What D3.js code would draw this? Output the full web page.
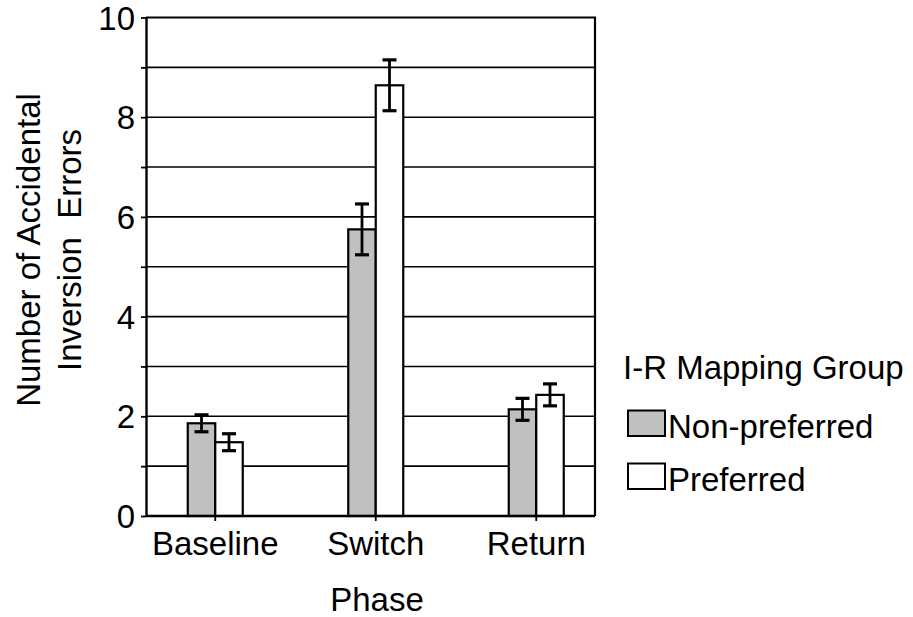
<!DOCTYPE html>
<html>
<head>
<meta charset="utf-8">
<script src="https://cdn.jsdelivr.net/npm/d3@7/dist/d3.min.js"></script>
<style>
  html, body { margin: 0; padding: 0; background: #fff; }
  svg { display: block; }
  text { font-family: "Liberation Sans", Arial, sans-serif; fill: #000; }
</style>
</head>
<body>
<svg id="chart" width="913" height="617"></svg>
<script>
// Phases on the x axis
const phases = ["Baseline", "Switch", "Return"];
// Groups (series)
const groups = ["Non-preferred", "Preferred"];
const groupColors = ["#c0c0c0", "#ffffff"];
// Mean accidental inversion errors per phase
const nonPreferred = [1.86, 5.75, 2.14];
const preferred = [1.48, 8.64, 2.43];
// Error bar half-widths per phase
const nonPreferredErr = [0.17, 0.51, 0.22];
const preferredErr = [0.17, 0.51, 0.22];
// Y-axis ticks
const yTicks = [0, 1, 2, 3, 4, 5, 6, 7, 8, 9, 10];
const yTickLabels = ["0", "", "2", "", "4", "", "6", "", "8", "", "10"];

const seriesValues = [nonPreferred, preferred];
const seriesErrors = [nonPreferredErr, preferredErr];

const svg = d3.select("#chart");
const plot = { left: 146, right: 595, top: 17.5, bottom: 516 };
const fontSize = 33;

const y = d3.scaleLinear().domain([0, 10]).range([plot.bottom, plot.top]);
const x = d3.scaleBand().domain(phases).range([135, 616.5]).padding(0);
const barW = 27.5;
const xg = d3.scaleBand().domain(groups).range([-barW, barW]).padding(0);

// Horizontal gridlines
svg.append("g")
  .selectAll("line")
  .data(yTicks.filter(t => t > 0 && t < 10))
  .join("line")
  .attr("x1", plot.left).attr("x2", plot.right)
  .attr("y1", d => y(d)).attr("y2", d => y(d))
  .attr("stroke", "#000").attr("stroke-width", 1.6);

// Plot frame: top and right edges
svg.append("path")
  .attr("d", `M${plot.left},${y(10)}H${plot.right}V${plot.bottom}`)
  .attr("fill", "none").attr("stroke", "#000").attr("stroke-width", 2.2);

// Bars
const barG = svg.append("g");
groups.forEach((g, gi) => {
  barG.append("g")
    .selectAll("rect")
    .data(phases.map((p, i) => ({ phase: p, v: seriesValues[gi][i] })))
    .join("rect")
    .attr("x", d => x(d.phase) + x.bandwidth() / 2 + xg(g))
    .attr("width", xg.bandwidth())
    .attr("y", d => y(d.v))
    .attr("height", d => y(0) - y(d.v))
    .attr("fill", groupColors[gi])
    .attr("stroke", "#000").attr("stroke-width", 2.2);
});

// Error bars
const capW = 14;
groups.forEach((g, gi) => {
  const eg = svg.append("g").attr("stroke", "#000").attr("fill", "none");
  phases.forEach((p, i) => {
    const cx = x(p) + x.bandwidth() / 2 + xg(g) + xg.bandwidth() / 2;
    const v = seriesValues[gi][i], e = seriesErrors[gi][i];
    eg.append("line").attr("x1", cx).attr("x2", cx)
      .attr("y1", y(v + e)).attr("y2", y(v - e)).attr("stroke-width", 2.8);
    eg.append("line").attr("x1", cx - capW / 2).attr("x2", cx + capW / 2)
      .attr("y1", y(v + e)).attr("y2", y(v + e)).attr("stroke-width", 3.2);
    eg.append("line").attr("x1", cx - capW / 2).attr("x2", cx + capW / 2)
      .attr("y1", y(v - e)).attr("y2", y(v - e)).attr("stroke-width", 3.2);
  });
});

// Y axis
const yAxis = svg.append("g")
  .attr("transform", `translate(${plot.left},0)`)
  .call(d3.axisLeft(y).tickValues(yTicks)
    .tickFormat((d, i) => yTickLabels[i]).tickSize(5).tickSizeOuter(0).tickPadding(6));
yAxis.select(".domain").attr("stroke", "#000").attr("stroke-width", 2.4);
yAxis.selectAll(".tick line").attr("stroke", "#000").attr("stroke-width", 1.8);
yAxis.selectAll(".tick text")
  .attr("font-size", fontSize)
  .attr("font-family", "Liberation Sans, Arial, sans-serif")
  .attr("dy", "0.35em");

// X axis
const xAxis = svg.append("g")
  .attr("transform", `translate(0,${plot.bottom})`)
  .call(d3.axisBottom(x).tickSize(5).tickSizeOuter(0).tickPadding(14));
xAxis.select(".domain").attr("d", `M${plot.left},0H${plot.right}`)
  .attr("stroke", "#000").attr("stroke-width", 2.4);
xAxis.selectAll(".tick line").attr("stroke", "#000").attr("stroke-width", 1.8);
xAxis.selectAll(".tick text")
  .attr("font-size", fontSize)
  .attr("font-family", "Liberation Sans, Arial, sans-serif")
  .attr("dy", "0.71em")
  .attr("y", 16);

// Axis titles
svg.append("text")
  .attr("x", 377).attr("y", 611)
  .attr("text-anchor", "middle").attr("font-size", fontSize)
  .text("Phase");

const yTitle = svg.append("text")
  .attr("transform", "translate(40,250) rotate(-90)")
  .attr("text-anchor", "middle").attr("font-size", fontSize);
yTitle.append("tspan").attr("x", 0).attr("y", 0).text("Number of Accidental");
yTitle.append("tspan").attr("x", 0).attr("y", 41)
  .attr("xml:space", "preserve").style("white-space", "pre")
  .text("Inversion  Errors");

// Legend
const legend = svg.append("g");
legend.append("text")
  .attr("x", 623).attr("y", 379).attr("font-size", fontSize)
  .text("I-R Mapping Group");
const legendRows = [438, 491];
groups.forEach((g, gi) => {
  const base = legendRows[gi];
  legend.append("rect")
    .attr("x", 628).attr("y", base - 27.5)
    .attr("width", 37).attr("height", 25.5)
    .attr("fill", groupColors[gi])
    .attr("stroke", "#000").attr("stroke-width", 2);
  legend.append("text")
    .attr("x", 668).attr("y", base).attr("font-size", fontSize)
    .text(g);
});
</script>
</body>
</html>
